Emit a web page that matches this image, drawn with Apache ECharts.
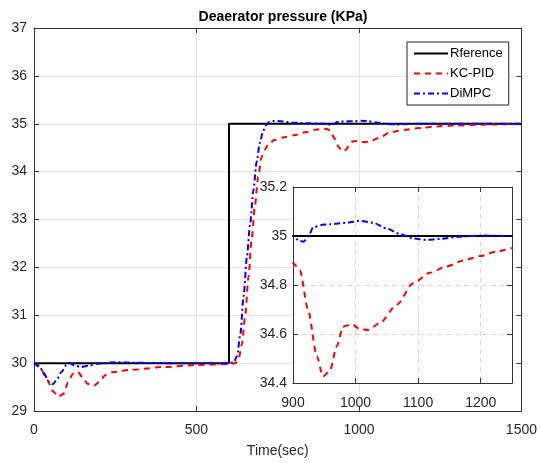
<!DOCTYPE html>
<html>
<head>
<meta charset="utf-8">
<script src="https://cdn.jsdelivr.net/npm/echarts@6/dist/echarts.min.js"></script>
<style>
  html, body { margin: 0; padding: 0; background: #fff; }
  #chart { width: 540px; height: 463px; }
</style>
</head>
<body>
<div id="chart"></div>
<script>
// 数据
const refTime = [0, 600, 600, 1500];
const refValue = [30, 30, 35, 35];

const pidTime = [0, 20, 40, 60, 75, 90, 105, 120, 135, 150, 165, 182, 200, 220, 240, 300, 400, 500, 600,
  620, 630, 640, 650, 660, 670, 680, 690, 700, 710, 720, 740, 770, 800, 840, 870, 890,
  900, 911, 924, 938, 948, 959, 970, 980, 994, 1007, 1020, 1039, 1066, 1092, 1119, 1145,
  1172, 1199, 1225, 1250, 1300, 1400, 1500];
const pidValue = [30, 29.9, 29.65, 29.4, 29.3, 29.35, 29.6, 29.78, 29.82, 29.7, 29.57, 29.52, 29.6, 29.75, 29.81, 29.86, 29.92, 29.96, 29.98,
  30.0, 30.1, 30.4, 31.0, 31.8, 32.6, 33.3, 33.9, 34.3, 34.45, 34.56, 34.66, 34.72, 34.76, 34.83, 34.88, 34.9,
  34.89, 34.86, 34.70, 34.51, 34.426, 34.45, 34.55, 34.63, 34.64, 34.62, 34.616, 34.645, 34.72, 34.807, 34.85, 34.875,
  34.90, 34.918, 34.936, 34.95, 34.965, 34.985, 34.995];

const mpcTime = [0, 15, 30, 45, 58, 70, 85, 100, 110, 125, 145, 170, 200, 250, 300, 400, 500, 600,
  615, 625, 635, 645, 655, 665, 675, 685, 695, 705, 715, 725, 740, 760, 800, 850, 880,
  900, 910, 917, 925, 932, 945, 959, 986, 1007, 1028, 1050, 1071, 1092, 1113, 1135, 1167,
  1199, 1250, 1300, 1400, 1500];
const mpcValue = [30, 29.95, 29.8, 29.62, 29.56, 29.65, 29.82, 29.97, 30.0, 29.95, 29.92, 29.95, 29.99, 30.02, 30.01, 30.0, 30.0, 30.0,
  30.02, 30.15, 30.6, 31.4, 32.2, 32.9, 33.6, 34.2, 34.6, 34.85, 34.98, 35.04, 35.06, 35.05, 35.02, 35.01, 35.0,
  35.0, 34.98, 34.977, 35.0, 35.035, 35.045, 35.048, 35.054, 35.062, 35.054, 35.03, 35.008, 34.99, 34.984, 34.988, 34.997,
  35.002, 35.0, 35.0, 35.0, 35.0];

const seriesNames = ['Rference', 'KC-PID', 'DiMPC'];
const mainXTicks = [0, 500, 1000, 1500];
const mainYTicks = [29, 30, 31, 32, 33, 34, 35, 36, 37];
const insetXTicks = [900, 1000, 1100, 1200];
const insetYTicks = [34.4, 34.6, 34.8, 35, 35.2];

const toPairs = (t, v) => t.map((x, i) => [x, v[i]]);
const refData = toPairs(refTime, refValue);
const pidData = toPairs(pidTime, pidValue);
const mpcData = toPairs(mpcTime, mpcValue);

const FONT = "'Liberation Sans', Arial, Helvetica, sans-serif";
const AXIS_COLOR = '#333';

function boxAxis(gridIndex, pos, min, max, interval, showLabel, z, gridStyle) {
  const a = {
    gridIndex: gridIndex,
    type: 'value',
    position: pos,
    min: min,
    max: max,
    interval: interval,
    z: z,
    axisLine: { show: true, onZero: false, lineStyle: { color: AXIS_COLOR, width: 1 } },
    axisTick: { show: true, inside: true, length: 5, lineStyle: { color: AXIS_COLOR } },
    axisLabel: {
      show: showLabel, color: '#262626', fontSize: 14, fontFamily: FONT,
      showMinLabel: true, showMaxLabel: true,
      formatter: v => String(parseFloat(v.toFixed(1)))
    },
    splitLine: { show: false }
  };
  if (gridStyle) {
    a.splitLine = { show: true, lineStyle: gridStyle };
  }
  return a;
}

const chart = echarts.init(document.getElementById('chart'));

const mainGrid = { show: true, left: 34, top: 28, width: 488, height: 385, borderWidth: 0, backgroundColor: '#fff', z: 0 };
const insetGrid = { show: true, left: 293, top: 187, width: 219, height: 196, borderWidth: 0, backgroundColor: '#fff', z: 10 };

const mainSplit = { color: '#e3e3e3', width: 1, type: 'solid' };
const insetSplit = { color: '#d6d6d6', width: 1, type: [5, 4] };

const xMain = boxAxis(0, 'bottom', 0, 1500, 500, true, 1, mainSplit);
xMain.name = 'Time(sec)';
xMain.nameLocation = 'middle';
xMain.nameGap = 33;
xMain.nameTextStyle = { color: '#262626', fontSize: 14, fontFamily: FONT };
xMain.axisLabel.margin = 12;

const yMain = boxAxis(0, 'left', 29, 37, 1, true, 1, mainSplit);
yMain.axisLabel.margin = 7;

const xInset = boxAxis(1, 'bottom', 900, 1250, 100, true, 11, insetSplit);
xInset.axisLabel.margin = 13;
xInset.axisLabel.showMaxLabel = false;
const yInset = boxAxis(1, 'left', 34.4, 35.2, 0.2, true, 11, insetSplit);
yInset.axisLabel.margin = 6;

function lineSeries(name, data, xi, yi, z, style) {
  return {
    name: name,
    type: 'line',
    xAxisIndex: xi,
    yAxisIndex: yi,
    data: data,
    showSymbol: false,
    symbol: 'none',
    smooth: 0.25,
    smoothMonotone: 'x',
    clip: true,
    z: z,
    lineStyle: style,
    itemStyle: { color: style.color },
    emphasis: { disabled: true }
  };
}

const refStyle = { color: '#000', width: 2, type: 'solid' };
const pidStyle = { color: '#ff0000', width: 2, type: [6, 5] };
const mpcStyle = { color: '#0000ff', width: 2, type: [6, 3, 2, 3] };

const option = {
  animation: false,
  backgroundColor: '#fff',
  title: {
    text: 'Deaerator pressure (KPa)',
    left: 278,
    textAlign: 'center',
    top: 5,
    textStyle: { color: '#000', fontSize: 14, fontWeight: 'bold', fontFamily: FONT }
  },
  legend: {
    data: seriesNames,
    orient: 'vertical',
    left: 407,
    top: 42,
    padding: [5, 6, 5, 6],
    itemGap: 7,
    itemWidth: 34,
    itemHeight: 14,
    itemStyle: { opacity: 0 },
    borderColor: '#222',
    borderWidth: 1,
    backgroundColor: '#fff',
    textStyle: { color: '#000', fontSize: 13, fontFamily: FONT, padding: [0, 0, 0, -3] },
    z: 20
  },
  grid: [mainGrid, insetGrid],
  xAxis: [
    xMain,
    boxAxis(0, 'top', 0, 1500, 500, false, 1),
    xInset,
    boxAxis(1, 'top', 900, 1250, 100, false, 11)
  ],
  yAxis: [
    yMain,
    boxAxis(0, 'right', 29, 37, 1, false, 1),
    yInset,
    boxAxis(1, 'right', 34.4, 35.2, 0.2, false, 11)
  ],
  series: [
    lineSeries(seriesNames[0], refData, 0, 0, 2, refStyle),
    lineSeries(seriesNames[1], pidData, 0, 0, 3, pidStyle),
    lineSeries(seriesNames[2], mpcData, 0, 0, 4, mpcStyle),
    lineSeries(seriesNames[0], refData, 2, 2, 12, refStyle),
    lineSeries(seriesNames[1], pidData, 2, 2, 13, pidStyle),
    lineSeries(seriesNames[2], mpcData, 2, 2, 14, mpcStyle)
  ]
};
option.series[0].smooth = false;
option.series[3].smooth = false;

chart.setOption(option);
</script>
</body>
</html>
